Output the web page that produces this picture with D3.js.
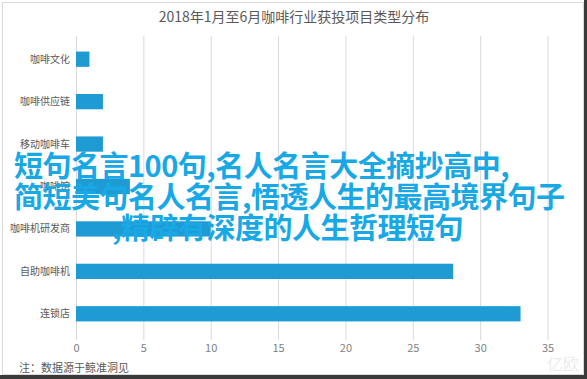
<!DOCTYPE html>
<html lang="zh">
<head>
<meta charset="utf-8">
<title>咖啡行业获投项目类型分布</title>
<script type="text/javascript" src="https://cdn.jsdelivr.net/npm/d3@7"></script>
<style>
  body { margin: 0; background: #fff; }
  svg text { font-family: "Noto Sans CJK SC", "Noto Sans", sans-serif; }
</style>
</head>
<body>
<div id="chart"></div>
<script>
// chart values, top to bottom
const categories = ["咖啡文化", "咖啡供应链", "移动咖啡车", "咖啡馆", "咖啡机研发商", "自助咖啡机", "连锁店"];
const values = [1, 2, 2, 4, 10, 28, 33];
const ticks = [0, 5, 10, 15, 20, 25, 30, 35];
const title = "2018年1月至6月咖啡行业获投项目类型分布";
const note = "注：数据源于鲸准洞见";
const overlay = [
  "短句名言100句,名人名言大全摘抄高中,",
  "简短美句名人名言,悟透人生的最高境界句子",
  ",精辟有深度的人生哲理短句"
];

let w = 587;
let h = 379;

let svg = d3.select("#chart")
  .append("svg")
  .attr("width", w)
  .attr("height", h);

// frame
svg.append("rect")
  .attr("x", 2.5).attr("y", 2.5)
  .attr("width", 581).attr("height", 372)
  .attr("fill", "#fff")
  .attr("stroke", "#d9d9d9");
svg.append("rect").attr("x", 584).attr("y", 0).attr("width", 3).attr("height", h).attr("fill", "#3a3a3a");
svg.append("rect").attr("x", 0).attr("y", 375).attr("width", w).attr("height", 4).attr("fill", "#3a3a3a");

let xScale = d3.scaleLinear()
  .domain([0, 35])
  .range([76, 547.5]);

let yScale = d3.scaleBand()
  .domain(categories)
  .range([38, 335])
  .paddingInner(0.64)
  .paddingOuter(0.32);

svg.append("text")
  .attr("x", 294)
  .attr("y", 22)
  .attr("text-anchor", "middle")
  .attr("font-size", 14)
  .attr("fill", "#595959")
  .text(title);

// grid + ticks
let xAxis = d3.axisBottom(xScale)
  .tickValues(ticks)
  .tickSize(304)
  .tickPadding(4);

let gx = svg.append("g")
  .attr("transform", "translate(0,36)")
  .call(xAxis);
gx.select(".domain").remove();
gx.selectAll(".tick line").attr("stroke", "#d9d9d9");
gx.selectAll(".tick text")
  .attr("fill", "#7f7f7f")
  .attr("font-size", 11);

svg.append("g")
  .selectAll("rect")
  .data(values)
  .enter()
  .append("rect")
  .attr("x", xScale(0))
  .attr("y", (d, i) => yScale(categories[i]))
  .attr("width", (d) => xScale(d) - xScale(0))
  .attr("height", yScale.bandwidth())
  .attr("fill", "#1f9bd4");

svg.append("g")
  .selectAll("text")
  .data(categories)
  .enter()
  .append("text")
  .attr("x", 70)
  .attr("y", (d) => yScale(d) + yScale.bandwidth() / 2)
  .attr("dy", "0.35em")
  .attr("text-anchor", "end")
  .attr("font-size", 10)
  .attr("fill", "#595959")
  .text((d) => d);

svg.append("text")
  .attr("x", 19)
  .attr("y", 372)
  .attr("font-size", 11)
  .attr("fill", "#595959")
  .text(note);

// faint watermark
svg.append("text")
  .attr("x", 563)
  .attr("y", 370)
  .attr("text-anchor", "middle")
  .attr("font-size", 16)
  .attr("fill", "#ececec")
  .text("亿欧");

// overlay text
svg.append("g")
  .selectAll("text")
  .data(overlay)
  .enter()
  .append("text")
  .attr("x", (d, i) => [14, 14, 112][i])
  .attr("y", (d, i) => 177 + i * 31)
  .attr("font-size", 29)
  .attr("font-weight", "bold")
  .attr("letter-spacing", -0.5)
  .attr("fill", "#19a8e6")
  .text((d) => d);
</script>
</body>
</html>
